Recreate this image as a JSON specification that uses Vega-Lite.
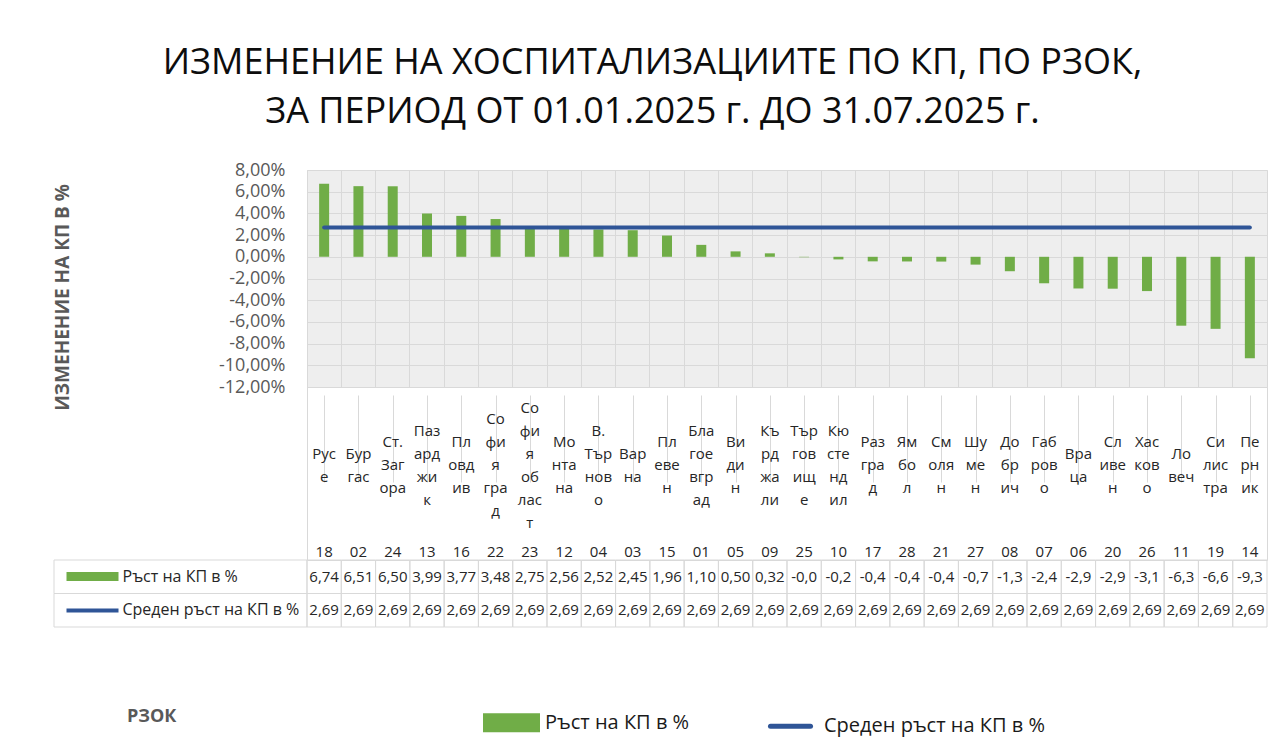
{
  "$schema": "https://vega.github.io/schema/vega-lite/v6.json",
  "padding": {"left": 52, "top": 44, "right": 10, "bottom": 10},
  "background": "white",
  "title": {
    "text": ["ИЗМЕНЕНИЕ НА ХОСПИТАЛИЗАЦИИТЕ ПО КП, ПО РЗОК,", "ЗА ПЕРИОД ОТ 01.01.2025 г. ДО 31.07.2025 г."],
    "font": "Open Sans", "fontSize": 36, "fontWeight": 400, "color": "#0d0d0d",
    "anchor": "start", "align": "center", "dx": 600, "lineHeight": 49, "offset": 30
  },
  "datasets": {
    "rzok": [
      {"r": "Русе", "n": "Рус\nе", "c": "18", "g": 6.74, "gt": "6,74", "m": 2.69, "mt": "2,69"},
      {"r": "Бургас", "n": "Бур\nгас", "c": "02", "g": 6.51, "gt": "6,51", "m": 2.69, "mt": "2,69"},
      {"r": "Ст. Загора", "n": "Ст.\nЗаг\nора", "c": "24", "g": 6.50, "gt": "6,50", "m": 2.69, "mt": "2,69"},
      {"r": "Пазарджик", "n": "Паз\nард\nжи\nк", "c": "13", "g": 3.99, "gt": "3,99", "m": 2.69, "mt": "2,69"},
      {"r": "Пловдив", "n": "Пл\nовд\nив", "c": "16", "g": 3.77, "gt": "3,77", "m": 2.69, "mt": "2,69"},
      {"r": "София град", "n": "Со\nфи\nя\nгра\nд", "c": "22", "g": 3.48, "gt": "3,48", "m": 2.69, "mt": "2,69"},
      {"r": "София област", "n": "Со\nфи\nя\nоб\nлас\nт", "c": "23", "g": 2.75, "gt": "2,75", "m": 2.69, "mt": "2,69"},
      {"r": "Монтана", "n": "Мо\nнта\nна", "c": "12", "g": 2.56, "gt": "2,56", "m": 2.69, "mt": "2,69"},
      {"r": "В. Търново", "n": "В.\nТър\nнов\nо", "c": "04", "g": 2.52, "gt": "2,52", "m": 2.69, "mt": "2,69"},
      {"r": "Варна", "n": "Вар\nна", "c": "03", "g": 2.45, "gt": "2,45", "m": 2.69, "mt": "2,69"},
      {"r": "Плевен", "n": "Пл\nеве\nн", "c": "15", "g": 1.96, "gt": "1,96", "m": 2.69, "mt": "2,69"},
      {"r": "Благоевград", "n": "Бла\nгое\nвгр\nад", "c": "01", "g": 1.10, "gt": "1,10", "m": 2.69, "mt": "2,69"},
      {"r": "Видин", "n": "Ви\nди\nн", "c": "05", "g": 0.50, "gt": "0,50", "m": 2.69, "mt": "2,69"},
      {"r": "Кърджали", "n": "Къ\nрд\nжа\nли", "c": "09", "g": 0.32, "gt": "0,32", "m": 2.69, "mt": "2,69"},
      {"r": "Търговище", "n": "Тър\nгов\nищ\nе", "c": "25", "g": -0.04, "gt": "-0,0", "m": 2.69, "mt": "2,69"},
      {"r": "Кюстендил", "n": "Кю\nсте\nнд\nил", "c": "10", "g": -0.24, "gt": "-0,2", "m": 2.69, "mt": "2,69"},
      {"r": "Разград", "n": "Раз\nгра\nд", "c": "17", "g": -0.42, "gt": "-0,4", "m": 2.69, "mt": "2,69"},
      {"r": "Ямбол", "n": "Ям\nбо\nл", "c": "28", "g": -0.43, "gt": "-0,4", "m": 2.69, "mt": "2,69"},
      {"r": "Смолян", "n": "См\nоля\nн", "c": "21", "g": -0.44, "gt": "-0,4", "m": 2.69, "mt": "2,69"},
      {"r": "Шумен", "n": "Шу\nме\nн", "c": "27", "g": -0.72, "gt": "-0,7", "m": 2.69, "mt": "2,69"},
      {"r": "Добрич", "n": "До\nбр\nич", "c": "08", "g": -1.33, "gt": "-1,3", "m": 2.69, "mt": "2,69"},
      {"r": "Габрово", "n": "Габ\nров\nо", "c": "07", "g": -2.44, "gt": "-2,4", "m": 2.69, "mt": "2,69"},
      {"r": "Враца", "n": "Вра\nца", "c": "06", "g": -2.92, "gt": "-2,9", "m": 2.69, "mt": "2,69"},
      {"r": "Сливен", "n": "Сл\nиве\nн", "c": "20", "g": -2.94, "gt": "-2,9", "m": 2.69, "mt": "2,69"},
      {"r": "Хасково", "n": "Хас\nков\nо", "c": "26", "g": -3.16, "gt": "-3,1", "m": 2.69, "mt": "2,69"},
      {"r": "Ловеч", "n": "Ло\nвеч", "c": "11", "g": -6.35, "gt": "-6,3", "m": 2.69, "mt": "2,69"},
      {"r": "Силистра", "n": "Си\nлис\nтра", "c": "19", "g": -6.64, "gt": "-6,6", "m": 2.69, "mt": "2,69"},
      {"r": "Перник", "n": "Пе\nрн\nик", "c": "14", "g": -9.34, "gt": "-9,3", "m": 2.69, "mt": "2,69"}
    ],
    "rows": [
      {"series": "Ръст на КП в %"},
      {"series": "Среден ръст на КП в %"}
    ]
  },
  "columns": 2,
  "spacing": 0,
  "bounds": "flush",
  "align": "each",
  "concat": [
    {
      "width": 253, "height": 217,
      "data": {"values": []},
      "mark": "text",
      "encoding": {},
      "view": {"stroke": null}
    },
    {
      "width": 960, "height": 217,
      "data": {"name": "rzok"},
      "view": {"fill": "#eeeeee", "stroke": "#d9d9d9"},
      "layer": [
        {
          "mark": {"type": "bar", "width": 10},
          "encoding": {
            "x": {"field": "r", "type": "nominal", "sort": null,
                  "scale": {"paddingInner": 0, "paddingOuter": 0},
                  "axis": {"grid": true, "bandPosition": 0, "labels": false, "ticks": false, "domain": false, "title": null, "gridColor": "#d9d9d9"}},
            "y": {"field": "g", "type": "quantitative",
                  "scale": {"domain": [-12, 8], "nice": false, "zero": false},
                  "axis": {"values": [-12, -10, -8, -6, -4, -2, 0, 2, 4, 6, 8], "tickCount": 11,
                           "labelExpr": "replace(replace(format(datum.value, '.2f'), '.', ','), '\u2212', '-') + '%'",
                           "labelFont": "Open Sans", "labelFontSize": 18, "labelColor": "#595959", "labelPadding": 22,
                           "labelOverlap": false, "labelBound": false,
                           "ticks": false, "domain": false, "grid": true, "gridColor": "#d9d9d9",
                           "title": "ИЗМЕНЕНИЕ НА КП В %", "titleFont": "Open Sans", "titleFontSize": 19, "titleFontWeight": "bold",
                           "titleColor": "#595959", "titleX": -245, "titleY": 127, "titleAngle": -90,
                           "titleAlign": "center", "titleBaseline": "middle"}},
            "color": {"datum": "Ръст на КП в %", "type": "nominal",
                      "scale": {"domain": ["Ръст на КП в %", "Среден ръст на КП в %"], "range": ["#70ad47", "#2f5597"]},
                      "legend": {
                        "orient": "none", "legendX": 73, "legendY": 524, "direction": "horizontal",
                        "title": "РЗОК", "titleOrient": "left", "titlePadding": 306,
                        "titleFont": "Open Sans", "titleFontSize": 18, "titleFontWeight": "bold", "titleColor": "#595959",
                        "labelFont": "Open Sans", "labelFontSize": 20, "labelColor": "#1a1a1a", "labelOffset": 5, "labelLimit": 400,
                        "symbolSize": 2704, "columnPadding": 70, "symbolStrokeWidth": 5,
                        "encode": {"symbols": {"update": {
                          "shape": {"signal": "datum.value === 'Ръст на КП в %' ? 'M-1,-0.27H1V0.27H-1Z' : 'M-0.77,0H0.77'"},
                          "fill": {"signal": "datum.value === 'Ръст на КП в %' ? '#70ad47' : 'transparent'"},
                          "stroke": {"signal": "datum.value === 'Ръст на КП в %' ? 'transparent' : '#2f5597'"},
                          "strokeWidth": {"value": 5},
                          "strokeCap": {"value": "round"},
                          "opacity": {"value": 1}
                        }}}
                      }}
          }
        },
        {
          "mark": {"type": "line", "strokeWidth": 4, "strokeCap": "round"},
          "encoding": {
            "x": {"field": "r", "type": "nominal", "sort": null},
            "y": {"field": "m", "type": "quantitative"},
            "color": {"datum": "Среден ръст на КП в %", "type": "nominal"}
          }
        }
      ]
    },
    {
      "width": 253, "height": 173,
      "data": {"values": []},
      "mark": "text",
      "encoding": {},
      "view": {"stroke": null}
    },
    {
      "width": 960, "height": 173,
      "data": {"name": "rzok"},
      "view": {"stroke": "#d9d9d9"},
      "layer": [
        {
          "mark": {"type": "text", "lineBreak": "\n", "lineHeight": 23, "fontSize": 15, "font": "Open Sans", "color": "#262626", "baseline": "middle", "align": "center",
                   "dy": {"expr": "-(length(split(datum.n, '\\n')) - 1) * 11.5"}},
          "encoding": {
            "x": {"field": "r", "type": "nominal", "sort": null,
                  "scale": {"paddingInner": 0, "paddingOuter": 0},
                  "axis": {"grid": true, "bandPosition": 0, "labels": false, "ticks": false, "domain": false, "title": null, "gridColor": "#d9d9d9"}},
            "y": {"datum": "name", "type": "nominal", "scale": {"type": "point", "domain": ["name", "code"], "range": [78, 165], "padding": 0}, "axis": null},
            "text": {"field": "n", "type": "nominal"}
          }
        },
        {
          "mark": {"type": "text", "fontSize": 15, "font": "Open Sans", "color": "#262626", "baseline": "middle", "align": "center"},
          "encoding": {
            "x": {"field": "r", "type": "nominal", "sort": null},
            "y": {"datum": "code", "type": "nominal"},
            "text": {"field": "c", "type": "nominal"}
          }
        }
      ]
    },
    {
      "width": 253, "height": 67,
      "data": {"name": "rows"},
      "view": {"stroke": null},
      "mark": {"type": "rect", "fill": "transparent", "stroke": "#d9d9d9", "strokeWidth": 1},
      "encoding": {
        "y": {"field": "series", "type": "nominal", "sort": null,
              "scale": {"paddingInner": 0, "paddingOuter": 0},
              "axis": {"orient": "left", "offset": -64, "ticks": true, "tickSize": 52,
                       "tickColor": {"condition": {"test": "datum.value === 'Ръст на КП в %'", "value": "#70ad47"}, "value": "#2f5597"},
                       "tickWidth": {"condition": {"test": "datum.value === 'Ръст на КП в %'", "value": 9}, "value": 4},
                       "labelAlign": "left", "labelPadding": -56, "labelFont": "Open Sans", "labelFontSize": 16,
                       "labelColor": "#262626", "labelLimit": 300, "domain": false, "grid": false, "title": null}}
      }
    },
    {
      "width": 960, "height": 67,
      "data": {"name": "rzok"},
      "view": {"stroke": null},
      "transform": [{"fold": ["gt", "mt"], "as": ["key", "txt"]}],
      "layer": [
        {
          "mark": {"type": "rect", "fill": "transparent", "stroke": "#d9d9d9", "strokeWidth": 1},
          "encoding": {
            "x": {"field": "r", "type": "nominal", "sort": null, "scale": {"paddingInner": 0, "paddingOuter": 0}, "axis": null},
            "y": {"field": "key", "type": "nominal", "scale": {"domain": ["gt", "mt"], "paddingInner": 0, "paddingOuter": 0}, "axis": null}
          }
        },
        {
          "mark": {"type": "text", "fontSize": 15, "font": "Open Sans", "color": "#262626", "baseline": "middle", "align": "center"},
          "encoding": {
            "x": {"field": "r", "type": "nominal", "sort": null},
            "y": {"field": "key", "type": "nominal"},
            "text": {"field": "txt", "type": "nominal"}
          }
        }
      ]
    }
  ],
  "config": {
    "font": "Open Sans",
    "view": {"stroke": "#d9d9d9"}
  }
}
